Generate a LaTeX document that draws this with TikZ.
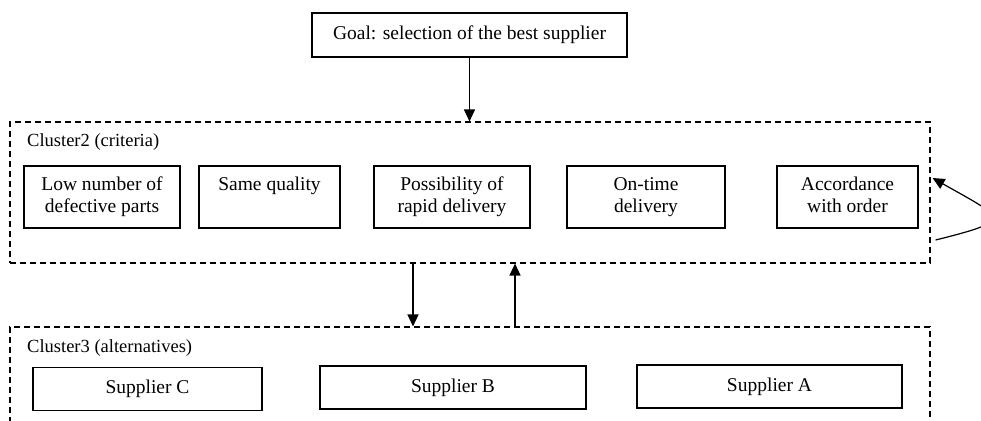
\documentclass[tikz,border=0pt]{standalone}
\usepackage{fontspec}
\setmainfont{Liberation Serif}
\usetikzlibrary{arrows.meta}
\begin{document}
\begin{tikzpicture}[x=1pt,y=-1pt,
  every node/.style={font=\fontsize{19.5}{21.5}\selectfont, inner sep=0pt, align=center},
  box/.style={draw, line width=1.1pt, minimum height=62pt},
  supbox/.style={draw, line width=1.1pt, minimum height=43pt},
  cluster/.style={draw, dashed, dash pattern=on 6pt off 4pt, line width=1.1pt},
  lab/.style={anchor=west, font=\fontsize{18.5}{22}\selectfont},
  arr/.style={line width=1.2pt, -{Triangle[length=12pt,width=11pt]}}]
\useasboundingbox (0,0) rectangle (981,420);
\clip (0,0) rectangle (981,420);
\fill[white] (0,0) rectangle (981,420);
% goal
\node[draw, line width=1.1pt, minimum width=315pt, minimum height=44pt] (goal) at (469.5,35) {Goal: selection of the best supplier};
% clusters
\node[cluster, minimum width=920pt, minimum height=141pt] (cl2) at (470,192.5) {};
\node[cluster, minimum width=920pt, minimum height=200pt] (cl3) at (470,427) {};
\node[lab] (l2) at (27,142) {Cluster2 (criteria)};
\node[lab] (l3) at (27,348) {Cluster3 (alternatives)};
% criteria
\node[box, minimum width=156pt] (c1) at (102,197) {\strut Low number of\\\strut defective parts};
\node[box, minimum width=141pt] (c2) at (269.5,197) {\strut Same quality\\\strut};
\node[box, minimum width=156pt] (c3) at (452,197) {\strut Possibility of\\\strut rapid delivery};
\node[box, minimum width=158pt] (c4) at (646,197) {\strut On-time\\\strut delivery};
\node[box, minimum width=141pt] (c5) at (847.5,197) {\strut Accordance\\\strut with order};
% suppliers
\node[supbox, minimum width=229pt] (sc) at (147.5,389) {Supplier C};
\node[supbox, minimum width=266pt] (sb) at (453,387.5) {Supplier B};
\node[supbox, minimum width=265pt] (sa) at (769.5,386.5) {Supplier A};
% arrows
\draw[arr] (goal.south) -- (goal.south |- cl2.north);
\draw[arr] ([xshift=-57pt]cl2.south) -- ([xshift=-57pt]cl2.south |- cl3.north);
\draw[arr] ([xshift=45pt]cl2.south |- cl3.north) -- ([xshift=45pt]cl2.south);
\coordinate (ls) at ([xshift=5pt,yshift=-47.5pt]cl2.east);
\coordinate (le) at ([xshift=2pt,yshift=14.5pt]cl2.east);
\draw[arr] (ls) .. controls (1016,220) and (1004,218.5) .. (le);
\end{tikzpicture}
\end{document}
